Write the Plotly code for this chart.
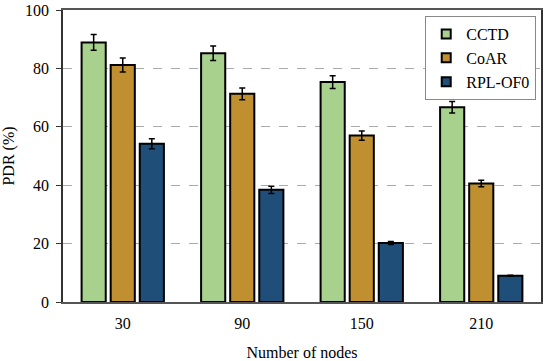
import plotly.graph_objects as go

categories = ["30", "90", "150", "210"]
cctd = [88.9, 85.2, 75.3, 66.7]
cctd_err = [2.7, 2.5, 2.2, 2.0]
coar = [81.2, 71.3, 57.0, 40.6]
coar_err = [2.4, 2.0, 1.6, 1.1]
rpl = [54.2, 38.4, 20.2, 9.0]
rpl_err = [1.7, 1.2, 0.5, 0.2]

names = ["CCTD", "CoAR", "RPL-OF0"]
colors = ["#A9D18E", "#C09030", "#1F4E79"]

fig = go.Figure()
for name, vals, errs, col in zip(names, [cctd, coar, rpl], [cctd_err, coar_err, rpl_err], colors):
    fig.add_trace(go.Bar(
        x=categories, y=vals, name=name, showlegend=False,
        marker=dict(color=col, line=dict(color="black", width=2)),
        error_y=dict(type="data", array=errs, visible=True, color="black", thickness=1.5, width=3),
    ))
# legend entries with small square swatches
for name, col in zip(names, colors):
    fig.add_trace(go.Scatter(
        x=[None], y=[None], mode="markers", name=name,
        marker=dict(symbol="square", size=9, color=col, line=dict(color="black", width=2)),
    ))

font = "Liberation Serif"
fig.update_layout(
    width=550, height=361,
    margin=dict(l=63, r=9, t=10, b=59),
    paper_bgcolor="white", plot_bgcolor="white",
    barmode="group", bargap=0.27, bargroupgap=0.17,
    font=dict(family=font, size=16, color="black"),
    showlegend=True,
    legend=dict(
        x=0.99, y=0.979, xanchor="right", yanchor="top",
        bordercolor="#888888", borderwidth=1, bgcolor="white",
        font=dict(family=font, size=16), itemwidth=30,
        tracegroupgap=0,
    ),
    xaxis=dict(
        title=dict(text="Number of nodes", font=dict(family=font, size=16), standoff=16),
        showline=True, linecolor="#555555", linewidth=1.5, mirror=True,
        ticks="", tickfont=dict(family=font, size=16), automargin=False,
        ticklabelstandoff=6,
    ),
    yaxis=dict(
        title=dict(text="PDR (%)", font=dict(family=font, size=16), standoff=10),
        range=[0, 100], tickvals=[0, 20, 40, 60, 80, 100],
        showline=True, linecolor="#333333", linewidth=1.5, mirror=True,
        ticks="outside", ticklen=5, tickcolor="#333333",
        showgrid=True, gridcolor="#AAAAAA", griddash="dash", gridwidth=1,
        zeroline=False, tickfont=dict(family=font, size=16), automargin=False,
        ticklabelstandoff=4,
    ),
)

fig.write_html("out.html", config={"displayModeBar": False},
               post_script="document.body.style.margin='0';")
